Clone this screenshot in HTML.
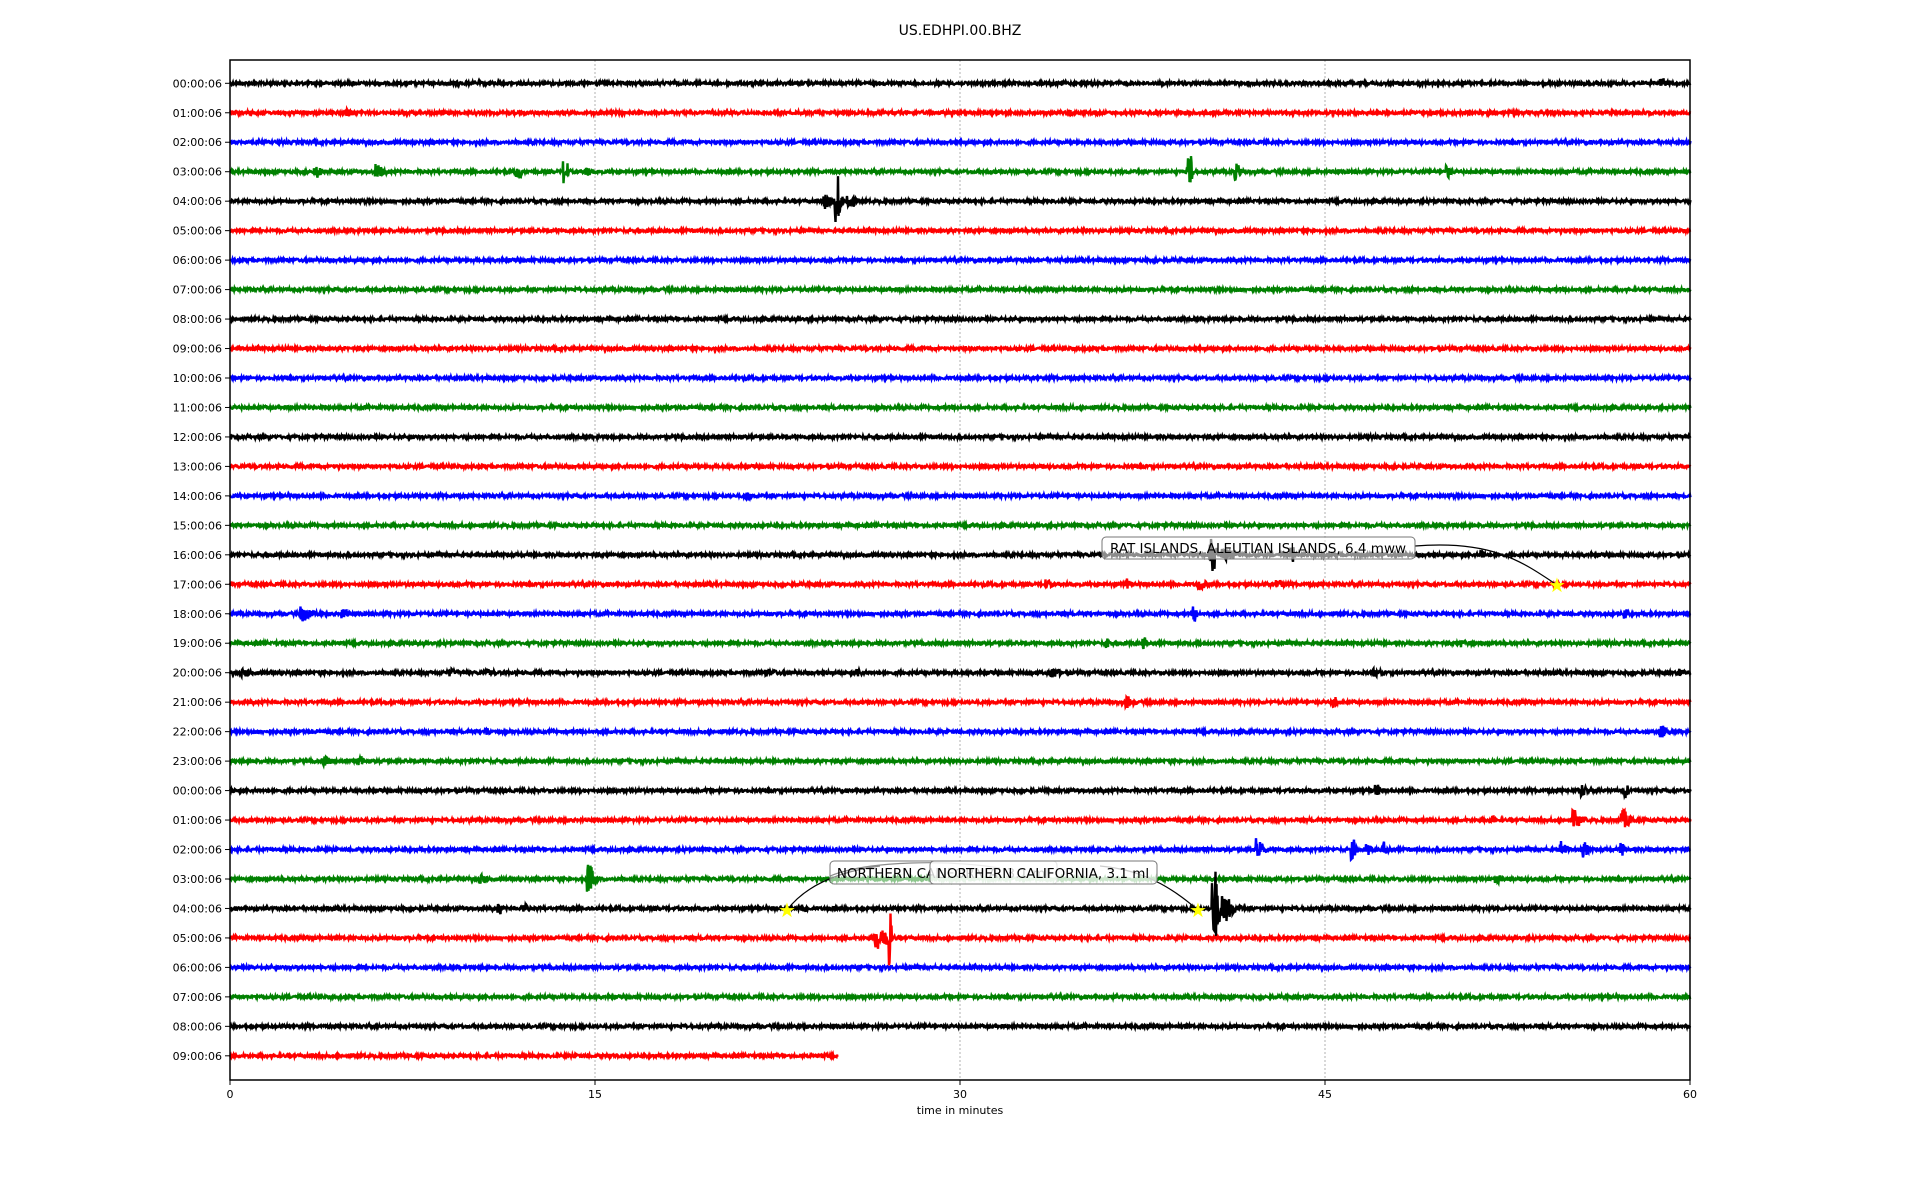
<!DOCTYPE html>
<html><head><meta charset="utf-8"><style>
html,body{margin:0;padding:0;background:#fff;width:1920px;height:1200px;overflow:hidden}
text{font-family:"DejaVu Sans","Liberation Sans",sans-serif}
</style></head><body>
<svg id="s" width="1920" height="1200" xmlns="http://www.w3.org/2000/svg">
<rect width="1920" height="1200" fill="#fff"/>
<text x="960" y="35" font-size="14" text-anchor="middle">US.EDHPI.00.BHZ</text>
<g stroke="#b0b0b0" stroke-width="1" stroke-dasharray="2,2">
<line x1="595" y1="60" x2="595" y2="1080"/><line x1="960" y1="60" x2="960" y2="1080"/><line x1="1325" y1="60" x2="1325" y2="1080"/>
</g>
<g id="tr"></g>
<g id="ann"></g>
<rect x="230" y="60" width="1460" height="1020" fill="none" stroke="#000" stroke-width="1.5"/>
<g id="ax" font-size="11"></g>
<text x="960" y="1114" font-size="11" text-anchor="middle">time in minutes</text>
</svg>
<script>
var NS="http://www.w3.org/2000/svg";
var seed=12345;function rnd(){seed=(seed*1103515245+12345)&0x7fffffff;return seed/0x7fffffff;}
var L=230,R=1690,W=1460,y0=83.3,dy=29.47;
var cols=["#000","#f00","#00f","#008000"];
var ev={3:[[3.5,6,.8],[6,8,.6],[11.8,8,.3],[13.7,14,.3],[14.6,6,.3],[39.4,16,.2],[41.3,8,.5],[50,6,.4]],
4:[[24.9,25,.3],[24.4,8,.8],[25.4,10,.5]],
16:[[40.3,22,.3],[40.8,8,1.5],[43.6,8,.2],[51.4,5,.3]],
17:[[36.8,6,.3],[39.8,6,.8],[43,6,.8],[33.5,5,.6]],
18:[[2.9,8,1.5],[4.6,5,.6],[39.6,8,.2],[57.3,6,.2]],
19:[[36,5,.2],[37.5,6,.2],[50.6,4,1]],
20:[[0.5,4,1],[9,4,1],[10.5,4,1],[22,4,1.5],[25.7,5,.5],[33.7,6,1],[47,4,1],[59.5,4,.5]],
21:[[36.8,6,.8],[45.3,6,.3]],
22:[[10.5,4,.6],[58.8,6,.6]],
23:[[3.8,5,1],[5.3,5,.5]],
24:[[47.1,6,.2],[55.5,7,.5],[57.3,8,.2]],
25:[[51.8,5,.3],[55.2,10,.8],[57.2,10,.8]],
26:[[42.2,12,.5],[46.1,10,.3],[46.7,6,.4],[47.4,8,.4],[54.7,10,.4],[55.6,8,.4],[57.1,8,.4]],
27:[[10.3,5,.6],[14.7,15,.5],[52,4,.8]],
28:[[40.4,40,.4],[40.8,15,1],[12,4,.8],[11,6,.2],[23.5,5,.5]],
29:[[27,35,.2],[26.5,12,1.2]],
1:[[4.8,5,.5],[34.5,4,.3]],0:[[58.8,5,.5]],14:[[21.2,5,.3]]};
var g=document.getElementById("tr"),ax=document.getElementById("ax");
for(var r=0;r<34;r++){
 var y=y0+r*dy,end=(r==33)?837:R,pts=[];
 var e=ev[r]||[];
 for(var x=L;x<=end;x+=1){
  var m=(x-L)/W*60,a=1.4;
  for(var k=0;k<e.length;k++){var d=m-e[k][0];if(d>-0.05&&d<e[k][2]){var f=d<0.1?1:Math.exp(-(d-0.1)/(e[k][2]*0.35));a=Math.max(a,e[k][1]*f);}}
  pts.push(x+","+(y+(rnd()*2-1)*a).toFixed(1));
  pts.push((x+0.5)+","+(y+(rnd()*2-1)*a).toFixed(1));
 }
 var p=document.createElementNS(NS,"polyline");p.setAttribute("points",pts.join(" "));
 p.setAttribute("fill","none");p.setAttribute("stroke",cols[r%4]);p.setAttribute("stroke-width","2.4");g.appendChild(p);
 var h=r%24;var lab=(h<10?"0":"")+h+":00:06";
 var t=document.createElementNS(NS,"text");t.setAttribute("x",222);t.setAttribute("y",y+4);t.setAttribute("text-anchor","end");t.textContent=lab;ax.appendChild(t);
 var tk=document.createElementNS(NS,"line");tk.setAttribute("x1",225);tk.setAttribute("x2",230);tk.setAttribute("y1",y);tk.setAttribute("y2",y);tk.setAttribute("stroke","#000");ax.appendChild(tk);
}
[0,15,30,45,60].forEach(function(v){var x=L+W*v/60;
 var tk=document.createElementNS(NS,"line");tk.setAttribute("x1",x);tk.setAttribute("x2",x);tk.setAttribute("y1",1080);tk.setAttribute("y2",1085);tk.setAttribute("stroke","#000");ax.appendChild(tk);
 var t=document.createElementNS(NS,"text");t.setAttribute("x",x);t.setAttribute("y",1098);t.setAttribute("text-anchor","middle");t.textContent=v;ax.appendChild(t);});
document.getElementById("ann").innerHTML=
'<path d="M1415,546 C1490,540 1520,560 1557,585" fill="none" stroke="#000" stroke-width="1.2"/>'+
'<path d="M830,876 C870,860 950,860 1000,868" fill="none" stroke="#000" stroke-width="1.2"/>'+
'<path d="M787,910 C810,880 850,870 880,866" fill="none" stroke="#000" stroke-width="1.2"/>'+
'<path d="M1100,866 C1150,870 1180,895 1198,910" fill="none" stroke="#000" stroke-width="1.2"/>'+
'<rect x="1102" y="537" width="313" height="22" rx="4" fill="#fff" fill-opacity="0.55" stroke="#777"/>'+
'<text x="1258" y="553" font-size="13.5" text-anchor="middle">RAT ISLANDS, ALEUTIAN ISLANDS, 6.4 mww</text>'+
'<rect x="830" y="861" width="227" height="23" rx="4" fill="#fff" fill-opacity="0.55" stroke="#777"/>'+
'<text x="943" y="878" font-size="13.5" text-anchor="middle">NORTHERN CALIFORNIA, 3.1 ml</text>'+
'<rect x="930" y="861" width="227" height="23" rx="4" fill="#fff" fill-opacity="0.8" stroke="#777"/>'+
'<text x="1043" y="878" font-size="13.5" text-anchor="middle">NORTHERN CALIFORNIA, 3.1 ml</text>'+
'<text x="1557" y="592" font-size="20" fill="#ff0" text-anchor="middle">★</text>'+
'<text x="787" y="917" font-size="20" fill="#ff0" text-anchor="middle">★</text>'+
'<text x="1198" y="917" font-size="20" fill="#ff0" text-anchor="middle">★</text>';
</script>
</body></html>
